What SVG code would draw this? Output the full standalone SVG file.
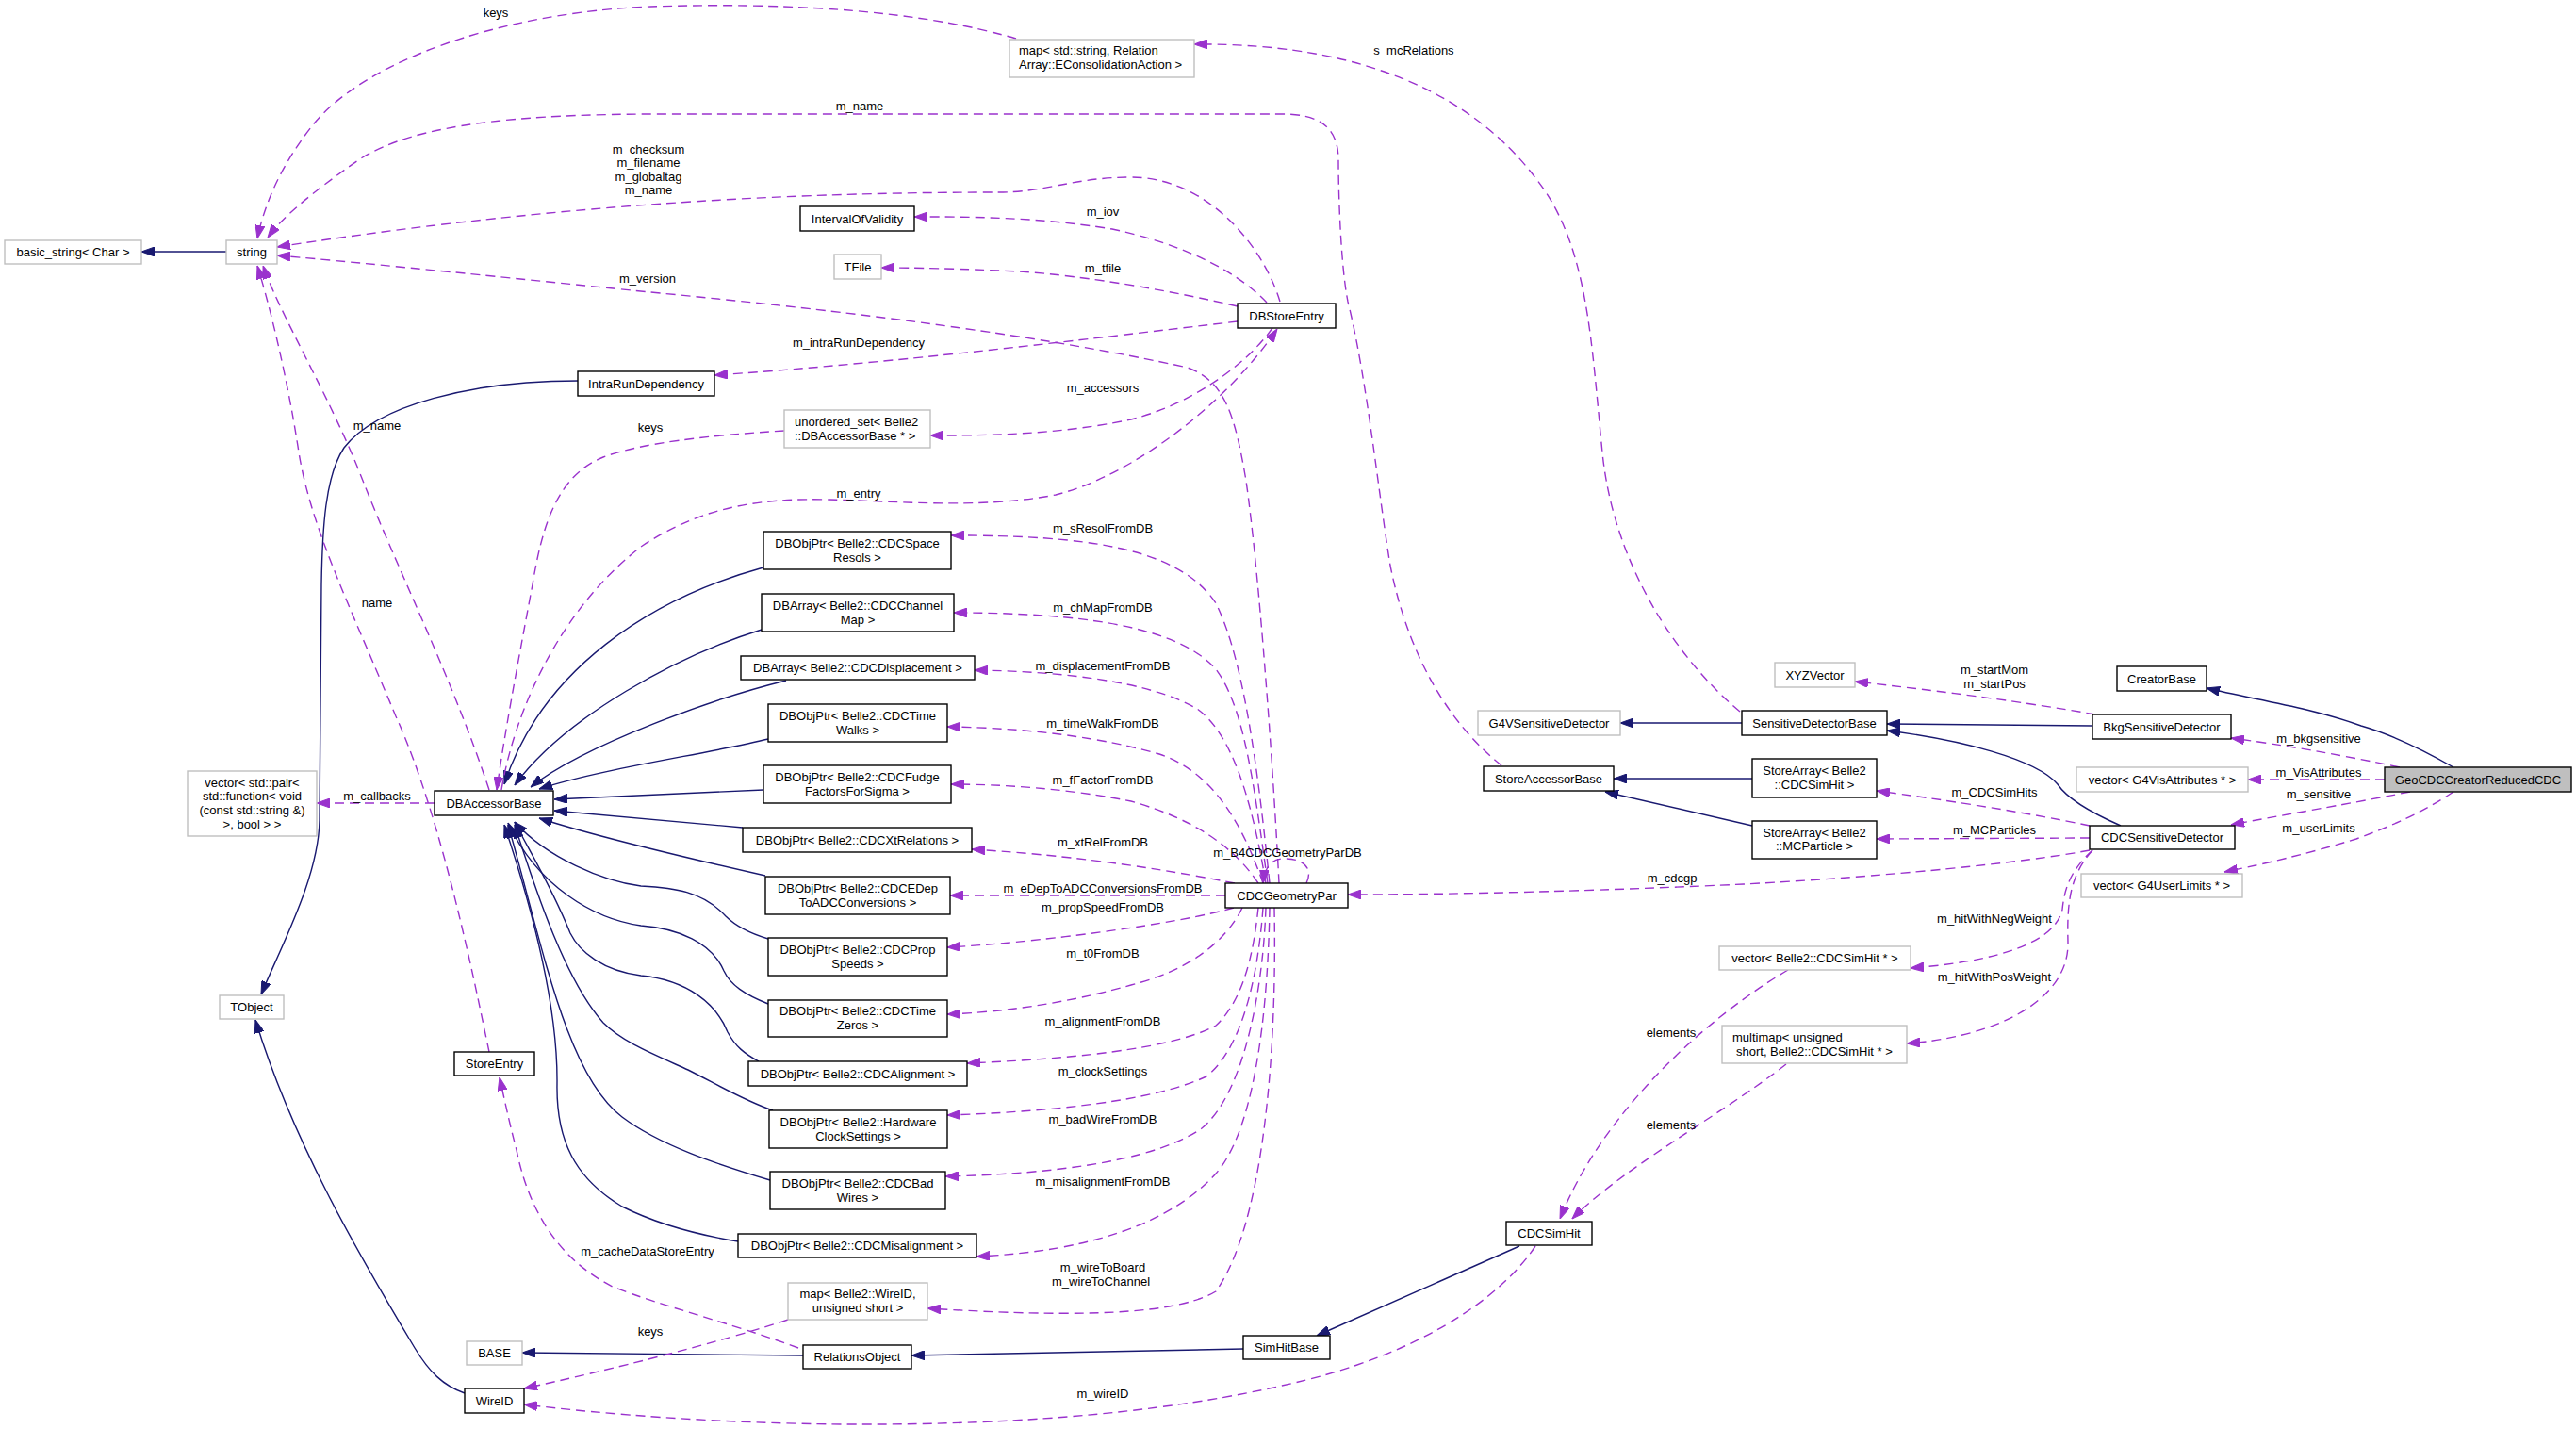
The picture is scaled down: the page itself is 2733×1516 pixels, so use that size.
<svg xmlns="http://www.w3.org/2000/svg" width="2733" height="1516" viewBox="0 0 2733 1516">
<defs>
<style>
text{font-family:"Liberation Sans",Arial,Helvetica,sans-serif;font-size:13px;fill:#000}
.c{text-anchor:middle}
.nd rect{fill:#fff;stroke:#000;stroke-width:1.4}
.gy rect{fill:#fff;stroke:#bfbfbf;stroke-width:1.4}
.main rect{fill:#bfbfbf;stroke:#000;stroke-width:1.4}
.inh{fill:none;stroke:#191970;stroke-width:1.4;marker-end:url(#an)}
.use{fill:none;stroke:#9a32cd;stroke-width:1.4;stroke-dasharray:10,6;marker-end:url(#ap)}
</style>
<marker id="an" viewBox="0 0 14 10" markerWidth="14" markerHeight="10" refX="14" refY="5" orient="auto" markerUnits="userSpaceOnUse"><path d="M0,0 L14,5 L0,10 z" fill="#191970" stroke="#191970" stroke-width="1"/></marker>
<marker id="ap" viewBox="0 0 14 10" markerWidth="14" markerHeight="10" refX="14" refY="5" orient="auto" markerUnits="userSpaceOnUse"><path d="M0,0 L14,5 L0,10 z" fill="#9a32cd" stroke="#9a32cd" stroke-width="1"/></marker>
</defs>
<rect width="2733" height="1516" fill="#fff"/>

<g id="edges">
<!-- inheritance -->
<path class="inh" d="M240,267 L150,267"/>
<path class="inh" d="M613,404 C500,404 400,430 365,475 C345,505 342,560 341,620 L339,870 C338,930 300,1000 277,1055"/>
<path class="inh" d="M493,1478 C470,1470 455,1455 440,1430 C380,1330 310,1210 271,1082"/>
<path class="inh" d="M1848,767 L1719,767"/>
<path class="inh" d="M1859,826 L1712,826"/>
<path class="inh" d="M1859,876 L1703,840"/>
<path class="inh" d="M2220,770 L2002,768"/>
<path class="inh" d="M2250,876 C2225,865 2195,850 2183,832 C2160,805 2080,785 2002,775"/>
<path class="inh" d="M2603,814 C2570,795 2540,780 2505,770 C2450,750 2390,742 2341,730"/>
<path class="inh" d="M852,1438 L554,1435"/>
<path class="inh" d="M1319,1431 L967,1438"/>
<path class="inh" d="M1612,1322 L1397,1417"/>
<path class="inh" d="M810,602 C690,635 575,710 535,832"/>
<path class="inh" d="M808,668 C720,695 600,760 546,833"/>
<path class="inh" d="M834,722 C760,740 620,790 563,835"/>
<path class="inh" d="M815,784 C750,800 640,815 572,837"/>
<path class="inh" d="M810,838 L588,848"/>
<path class="inh" d="M788,878 L588,860"/>
<path class="inh" d="M812,929 C750,915 640,890 572,868"/>
<path class="inh" d="M815,996 C795,990 780,982 770,972 C745,945 715,942 680,940 C640,935 580,910 546,872"/>
<path class="inh" d="M815,1065 C790,1055 775,1045 768,1030 C755,1000 720,985 680,982 C630,975 570,940 539,873"/>
<path class="inh" d="M805,1126 C790,1118 780,1110 772,1095 C760,1065 730,1040 680,1035 C640,1030 615,1010 605,990 C585,940 560,900 546,872"/>
<path class="inh" d="M820,1178 C790,1168 760,1150 730,1135 C690,1117 660,1105 640,1085 C600,1040 570,950 546,875"/>
<path class="inh" d="M817,1252 C760,1235 700,1215 660,1185 C600,1140 575,1000 539,875"/>
<path class="inh" d="M783,1317 C740,1310 700,1300 660,1280 C610,1250 590,1210 591,1150 C592,1060 560,950 535,875"/>
<!-- usage -->
<path class="use" d="M1078,41 C980,12 840,2 690,7 C520,14 380,70 330,135 C295,180 280,220 273,253"/>
<path class="use" d="M1846,755 C1780,700 1712,600 1700,480 C1688,360 1685,260 1630,190 C1570,110 1460,45 1267,47"/>
<path class="use" d="M1593,812 C1540,770 1495,700 1475,600 C1462,520 1450,400 1430,320 C1422,280 1420,200 1420,170 C1420,135 1400,121 1360,121 L700,121 C560,121 440,130 380,170 C330,205 300,230 284,252"/>
<path class="use" d="M1358,320 C1340,260 1280,188 1200,188 C1140,188 1110,204 1060,204 C850,204 600,215 294,262"/>
<path class="use" d="M1357,937 C1350,800 1335,600 1322,510 C1310,440 1300,405 1260,390 C1100,355 900,330 690,310 C550,296 400,280 294,271"/>
<path class="use" d="M1344,321 C1310,285 1250,258 1180,243 C1100,230 1030,230 970,230"/>
<path class="use" d="M1313,325 C1250,310 1150,292 1080,288 C1020,285 970,284 935,284"/>
<path class="use" d="M1313,341 C1150,360 950,385 758,398"/>
<path class="use" d="M1350,348 C1320,390 1260,430 1200,445 C1120,462 1040,462 987,462"/>
<path class="use" d="M532,838 C545,760 590,650 680,580 C740,540 800,528 880,530 C960,532 1040,540 1120,525 C1200,505 1300,430 1355,349"/>
<path class="use" d="M832,457 C750,462 680,470 640,485 C590,505 575,560 565,620 C550,700 535,780 527,838"/>
<path class="use" d="M519,838 C480,720 420,600 385,510 C350,420 300,340 279,282"/>
<path class="use" d="M519,1116 C505,1050 470,870 420,760 C370,640 330,560 317,480 C305,400 285,320 273,282"/>
<path class="use" d="M461,852 L336,852"/>
<path class="use" d="M847,1430 C780,1405 700,1385 650,1365 C590,1335 560,1280 548,1220 C540,1190 535,1165 530,1143"/>
<path class="use" d="M836,1400 C760,1425 640,1455 556,1473"/>
<path class="use" d="M1629,1322 C1590,1380 1500,1440 1360,1470 C1250,1495 1100,1512 900,1511 C760,1510 640,1500 556,1490"/>
<path class="use" d="M1897,1029 C1810,1080 1700,1180 1655,1293"/>
<path class="use" d="M1895,1129 C1830,1180 1720,1240 1668,1293"/>
<path class="use" d="M2220,902 C2195,925 2190,945 2188,965 C2180,1000 2120,1020 2027,1027"/>
<path class="use" d="M2220,902 C2195,930 2193,960 2194,1000 C2195,1060 2120,1100 2023,1107"/>
<path class="use" d="M2217,876 C2150,862 2060,848 1991,839"/>
<path class="use" d="M2217,889 L1991,890"/>
<path class="use" d="M2217,902 C2150,915 2000,930 1850,938 C1700,945 1550,949 1430,949"/>
<path class="use" d="M2223,758 C2150,745 2050,732 1968,723"/>
<path class="use" d="M2546,814 C2480,800 2420,790 2367,783"/>
<path class="use" d="M2530,827 L2385,827"/>
<path class="use" d="M2557,840 C2480,855 2420,865 2367,875"/>
<path class="use" d="M2603,840 C2570,862 2540,875 2500,890 C2450,905 2410,915 2360,925"/>
<path class="use" d="M1347,937 C1335,820 1320,700 1290,640 C1250,580 1150,568 1009,568"/>
<path class="use" d="M1345,937 C1330,830 1320,750 1290,710 C1250,665 1150,650 1012,650"/>
<path class="use" d="M1343,937 C1330,860 1310,780 1270,752 C1220,722 1120,712 1034,711"/>
<path class="use" d="M1340,937 C1320,880 1290,820 1230,800 C1160,780 1080,772 1005,771"/>
<path class="use" d="M1335,937 C1310,900 1270,870 1200,850 C1130,836 1060,832 1009,832"/>
<path class="use" d="M1310,937 C1250,925 1150,908 1031,901"/>
<path class="use" d="M1300,950 L1008,950"/>
<path class="use" d="M1309,963 C1250,980 1100,1000 1005,1005"/>
<path class="use" d="M1318,963 C1300,1000 1260,1030 1200,1045 C1130,1065 1060,1074 1005,1076"/>
<path class="use" d="M1335,963 C1330,1010 1320,1060 1290,1088 C1240,1115 1120,1124 1026,1128"/>
<path class="use" d="M1340,963 C1335,1030 1320,1110 1280,1142 C1220,1170 1100,1180 1005,1183"/>
<path class="use" d="M1343,963 C1340,1050 1320,1160 1275,1197 C1220,1235 1100,1246 1003,1248"/>
<path class="use" d="M1347,963 C1345,1080 1330,1200 1290,1245 C1240,1300 1150,1328 1036,1333"/>
<path class="use" d="M1352,963 C1355,1120 1340,1300 1290,1370 C1240,1400 1100,1395 984,1388"/>
<path class="use" d="M1386,937 C1392,925 1388,912 1365,911 C1350,910 1342,918 1340,937"/>
</g>

<g id="edge-labels">
<text class="c" x="526" y="18">keys</text>
<text class="c" x="1500" y="58">s_mcRelations</text>
<text class="c" x="912" y="117">m_name</text>
<text class="c" x="688" y="163">m_checksum</text>
<text class="c" x="688" y="177">m_filename</text>
<text class="c" x="688" y="192">m_globaltag</text>
<text class="c" x="688" y="206">m_name</text>
<text class="c" x="1170" y="229">m_iov</text>
<text class="c" x="1170" y="289">m_tfile</text>
<text class="c" x="687" y="300">m_version</text>
<text class="c" x="911" y="368">m_intraRunDependency</text>
<text class="c" x="1170" y="416">m_accessors</text>
<text class="c" x="690" y="458">keys</text>
<text class="c" x="400" y="456">m_name</text>
<text class="c" x="911" y="528">m_entry</text>
<text class="c" x="1170" y="565">m_sResolFromDB</text>
<text class="c" x="400" y="644">name</text>
<text class="c" x="1170" y="649">m_chMapFromDB</text>
<text class="c" x="1170" y="711">m_displacementFromDB</text>
<text class="c" x="2116" y="715">m_startMom</text>
<text class="c" x="2116" y="730">m_startPos</text>
<text class="c" x="1170" y="772">m_timeWalkFromDB</text>
<text class="c" x="2460" y="788">m_bkgsensitive</text>
<text class="c" x="2460" y="824">m_VisAttributes</text>
<text class="c" x="1170" y="832">m_fFactorFromDB</text>
<text class="c" x="2116" y="845">m_CDCSimHits</text>
<text class="c" x="400" y="849">m_callbacks</text>
<text class="c" x="2460" y="847">m_sensitive</text>
<text class="c" x="2116" y="885">m_MCParticles</text>
<text class="c" x="1170" y="898">m_xtRelFromDB</text>
<text class="c" x="2460" y="883">m_userLimits</text>
<text class="c" x="1366" y="909">m_B4CDCGeometryParDB</text>
<text class="c" x="1774" y="936">m_cdcgp</text>
<text class="c" x="1170" y="947">m_eDepToADCConversionsFromDB</text>
<text class="c" x="1170" y="967">m_propSpeedFromDB</text>
<text class="c" x="2116" y="979">m_hitWithNegWeight</text>
<text class="c" x="1170" y="1016">m_t0FromDB</text>
<text class="c" x="2116" y="1041">m_hitWithPosWeight</text>
<text class="c" x="1170" y="1088">m_alignmentFromDB</text>
<text class="c" x="1773" y="1100">elements</text>
<text class="c" x="1170" y="1141">m_clockSettings</text>
<text class="c" x="1170" y="1192">m_badWireFromDB</text>
<text class="c" x="1773" y="1198">elements</text>
<text class="c" x="1170" y="1258">m_misalignmentFromDB</text>
<text class="c" x="687" y="1332">m_cacheDataStoreEntry</text>
<text class="c" x="1170" y="1349">m_wireToBoard</text>
<text class="c" x="1168" y="1364">m_wireToChannel</text>
<text class="c" x="690" y="1417">keys</text>
<text class="c" x="1170" y="1483">m_wireID</text>
</g>

<g id="n-basic_string" class="gy"><rect x="5" y="255" width="145" height="25"/><text class="c" x="77.5" y="272">basic_string&lt; Char &gt;</text></g>
<g id="n-string" class="gy"><rect x="240" y="255" width="54" height="25"/><text class="c" x="267" y="272">string</text></g>
<g id="n-map-string" class="gy"><rect x="1071" y="42" width="196" height="40"/><text x="1081" y="57.5">map&lt; std::string, Relation</text><text x="1081" y="72.5">Array::EConsolidationAction &gt;</text></g>
<g id="n-IntervalOfValidity" class="nd"><rect x="849" y="219" width="121" height="26"/><text class="c" x="909.5" y="236.5">IntervalOfValidity</text></g>
<g id="n-TFile" class="gy"><rect x="885" y="270" width="50" height="26"/><text class="c" x="910" y="287.5">TFile</text></g>
<g id="n-DBStoreEntry" class="nd"><rect x="1313" y="322" width="104" height="26"/><text class="c" x="1365" y="339.5">DBStoreEntry</text></g>
<g id="n-IntraRunDependency" class="nd"><rect x="613" y="394" width="145" height="26"/><text class="c" x="685.5" y="411.5">IntraRunDependency</text></g>
<g id="n-unordered_set" class="gy"><rect x="832" y="435" width="155" height="40"/><text x="843" y="451.5">unordered_set&lt; Belle2</text><text x="843" y="466.5">::DBAccessorBase * &gt;</text></g>
<g id="n-DBAccessorBase" class="nd"><rect x="461" y="839" width="126" height="26"/><text class="c" x="524" y="856.5">DBAccessorBase</text></g>
<g id="n-vector-pair" class="gy"><rect x="199" y="818" width="137" height="69"/><text class="c" x="267.5" y="834.5">vector&lt; std::pair&lt;</text><text class="c" x="267.5" y="848.5">std::function&lt; void</text><text class="c" x="267.5" y="863.5">(const std::string &amp;)</text><text class="c" x="267.5" y="878.5">&gt;, bool &gt; &gt;</text></g>
<g id="n-SpaceResols" class="nd"><rect x="810" y="564" width="199" height="40"/><text class="c" x="909.5" y="580.5">DBObjPtr&lt; Belle2::CDCSpace</text><text class="c" x="909.5" y="595.5">Resols &gt;</text></g>
<g id="n-ChannelMap" class="nd"><rect x="808" y="630" width="204" height="40"/><text class="c" x="910" y="646.5">DBArray&lt; Belle2::CDCChannel</text><text class="c" x="910" y="661.5">Map &gt;</text></g>
<g id="n-Displacement" class="nd"><rect x="786" y="696" width="248" height="25"/><text class="c" x="910" y="713">DBArray&lt; Belle2::CDCDisplacement &gt;</text></g>
<g id="n-TimeWalks" class="nd"><rect x="815" y="747" width="190" height="40"/><text class="c" x="910" y="763.5">DBObjPtr&lt; Belle2::CDCTime</text><text class="c" x="910" y="778.5">Walks &gt;</text></g>
<g id="n-Fudge" class="nd"><rect x="810" y="812" width="199" height="40"/><text class="c" x="909.5" y="828.5">DBObjPtr&lt; Belle2::CDCFudge</text><text class="c" x="909.5" y="843.5">FactorsForSigma &gt;</text></g>
<g id="n-XtRelations" class="nd"><rect x="788" y="878" width="243" height="26"/><text class="c" x="909.5" y="895.5">DBObjPtr&lt; Belle2::CDCXtRelations &gt;</text></g>
<g id="n-EDep" class="nd"><rect x="812" y="930" width="196" height="40"/><text class="c" x="910" y="946.5">DBObjPtr&lt; Belle2::CDCEDep</text><text class="c" x="910" y="961.5">ToADCConversions &gt;</text></g>
<g id="n-PropSpeeds" class="nd"><rect x="815" y="995" width="190" height="40"/><text class="c" x="910" y="1011.5">DBObjPtr&lt; Belle2::CDCProp</text><text class="c" x="910" y="1026.5">Speeds &gt;</text></g>
<g id="n-TimeZeros" class="nd"><rect x="815" y="1061" width="190" height="39"/><text class="c" x="910" y="1077">DBObjPtr&lt; Belle2::CDCTime</text><text class="c" x="910" y="1092">Zeros &gt;</text></g>
<g id="n-Alignment" class="nd"><rect x="794" y="1126" width="232" height="26"/><text class="c" x="910" y="1143.5">DBObjPtr&lt; Belle2::CDCAlignment &gt;</text></g>
<g id="n-ClockSettings" class="nd"><rect x="816" y="1178" width="189" height="40"/><text class="c" x="910.5" y="1194.5">DBObjPtr&lt; Belle2::Hardware</text><text class="c" x="910.5" y="1209.5">ClockSettings &gt;</text></g>
<g id="n-BadWires" class="nd"><rect x="817" y="1243" width="186" height="40"/><text class="c" x="910" y="1259.5">DBObjPtr&lt; Belle2::CDCBad</text><text class="c" x="910" y="1274.5">Wires &gt;</text></g>
<g id="n-Misalignment" class="nd"><rect x="783" y="1309" width="253" height="25"/><text class="c" x="909.5" y="1326">DBObjPtr&lt; Belle2::CDCMisalignment &gt;</text></g>
<g id="n-map-WireID" class="gy"><rect x="836" y="1361" width="148" height="39"/><text class="c" x="910" y="1376.5">map&lt; Belle2::WireID,</text><text class="c" x="910" y="1391.5">unsigned short &gt;</text></g>
<g id="n-RelationsObject" class="nd"><rect x="852" y="1427" width="115" height="25"/><text class="c" x="909.5" y="1444">RelationsObject</text></g>
<g id="n-TObject" class="gy"><rect x="233" y="1056" width="68" height="25"/><text class="c" x="267" y="1073">TObject</text></g>
<g id="n-StoreEntry" class="nd"><rect x="482" y="1116" width="85" height="25"/><text class="c" x="524.5" y="1133">StoreEntry</text></g>
<g id="n-BASE" class="gy"><rect x="495" y="1423" width="59" height="25"/><text class="c" x="524.5" y="1440">BASE</text></g>
<g id="n-WireID" class="nd"><rect x="493" y="1473" width="63" height="26"/><text class="c" x="524.5" y="1490.5">WireID</text></g>
<g id="n-CDCGeometryPar" class="nd"><rect x="1300" y="937" width="130" height="26"/><text class="c" x="1365" y="954.5">CDCGeometryPar</text></g>
<g id="n-G4VSensitiveDetector" class="gy"><rect x="1568" y="754" width="151" height="26"/><text class="c" x="1643.5" y="771.5">G4VSensitiveDetector</text></g>
<g id="n-StoreAccessorBase" class="nd"><rect x="1574" y="813" width="138" height="26"/><text class="c" x="1643" y="830.5">StoreAccessorBase</text></g>
<g id="n-XYZVector" class="gy"><rect x="1883" y="703" width="85" height="26"/><text class="c" x="1925.5" y="720.5">XYZVector</text></g>
<g id="n-SensitiveDetectorBase" class="nd"><rect x="1848" y="754" width="154" height="26"/><text class="c" x="1925" y="771.5">SensitiveDetectorBase</text></g>
<g id="n-StoreArray-CDCSimHit" class="nd"><rect x="1859" y="805" width="132" height="41"/><text class="c" x="1925" y="821.5">StoreArray&lt; Belle2</text><text class="c" x="1925" y="836.5">::CDCSimHit &gt;</text></g>
<g id="n-StoreArray-MCParticle" class="nd"><rect x="1859" y="871" width="132" height="40"/><text class="c" x="1925" y="887.5">StoreArray&lt; Belle2</text><text class="c" x="1925" y="902">::MCParticle &gt;</text></g>
<g id="n-CreatorBase" class="nd"><rect x="2246" y="707" width="95" height="26"/><text class="c" x="2293.5" y="724.5">CreatorBase</text></g>
<g id="n-BkgSensitiveDetector" class="nd"><rect x="2220" y="758" width="147" height="26"/><text class="c" x="2293.5" y="775.5">BkgSensitiveDetector</text></g>
<g id="n-vector-G4VisAttributes" class="gy"><rect x="2203" y="814" width="182" height="26"/><text class="c" x="2294" y="831.5">vector&lt; G4VisAttributes * &gt;</text></g>
<g id="n-GeoCDCCreatorReducedCDC" class="main"><rect x="2530" y="814" width="198" height="26"/><text class="c" x="2629" y="831.5">GeoCDCCreatorReducedCDC</text></g>
<g id="n-CDCSensitiveDetector" class="nd"><rect x="2217" y="876" width="154" height="25"/><text class="c" x="2294" y="893">CDCSensitiveDetector</text></g>
<g id="n-vector-G4UserLimits" class="gy"><rect x="2208" y="927" width="171" height="25"/><text class="c" x="2293.5" y="944">vector&lt; G4UserLimits * &gt;</text></g>
<g id="n-vector-CDCSimHit" class="gy"><rect x="1824" y="1004" width="203" height="25"/><text class="c" x="1925.5" y="1021">vector&lt; Belle2::CDCSimHit * &gt;</text></g>
<g id="n-multimap" class="gy"><rect x="1827" y="1088" width="196" height="40"/><text x="1838" y="1104.5">multimap&lt; unsigned</text><text x="1842" y="1119.5">short, Belle2::CDCSimHit * &gt;</text></g>
<g id="n-CDCSimHit" class="nd"><rect x="1598" y="1296" width="91" height="25"/><text class="c" x="1643.5" y="1313">CDCSimHit</text></g>
<g id="n-SimHitBase" class="nd"><rect x="1319" y="1417" width="92" height="25"/><text class="c" x="1365" y="1434">SimHitBase</text></g>
</svg>
